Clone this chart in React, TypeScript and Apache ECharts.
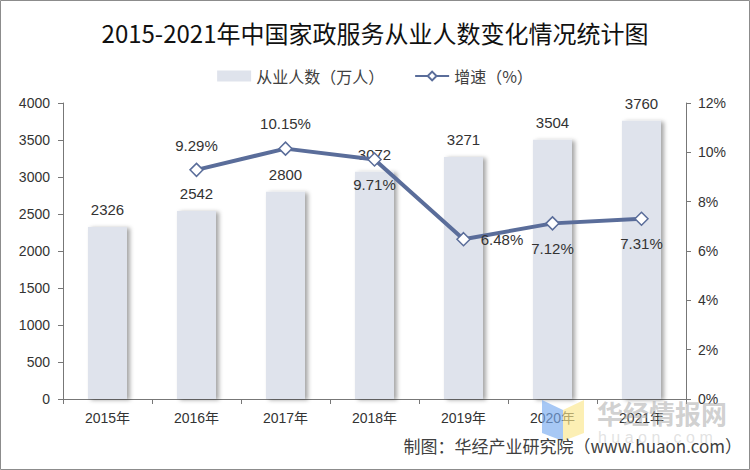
import React, { useEffect, useRef } from "react";
import * as echarts from "echarts";

const categories = ["2015年", "2016年", "2017年", "2018年", "2019年", "2020年", "2021年"];
const workers = [2326, 2542, 2800, 3072, 3271, 3504, 3760];
const growth: (number | null)[] = [null, 9.29, 10.15, 9.71, 6.48, 7.12, 7.31];
const growthLabelPos = ["top", "top", "top", "bottom", "right", "bottom", "bottom"];

const LINE_COLOR = "#5a6d9a";
const BAR_COLOR = "#dfe3ec";
const FONT = "'Liberation Sans', 'Noto Sans CJK SC', sans-serif";

export default function App() {
  const ref = useRef<HTMLDivElement>(null);
  useEffect(() => {
    if (!ref.current) return;
    const chart = echarts.init(ref.current, null, { renderer: "svg" });
    chart.setOption({
      animation: false,
      backgroundColor: "#ffffff",
      textStyle: { fontFamily: FONT },
      title: {
        text: "2015-2021年中国家政服务从业人数变化情况统计图",
        left: "center",
        top: 15,
        textStyle: { fontFamily: "'Noto Sans CJK SC', serif", fontSize: 24, fontWeight: "normal", color: "#111" },
      },
      legend: {
        top: 63,
        left: "center",
        itemGap: 30,
        itemWidth: 34,
        itemHeight: 11,
        textStyle: { fontFamily: "'Noto Sans CJK SC', sans-serif", fontSize: 16, color: "#404040" },
        data: [
          { name: "从业人数（万人）", icon: "rect" },
          { name: "增速（%）" },
        ],
      },
      grid: { left: 63, right: 64, top: 103, bottom: 71 },
      xAxis: {
        type: "category",
        data: categories,
        axisLine: { lineStyle: { color: "#777", width: 1 } },
        axisTick: { show: true, alignWithLabel: false, length: 5, lineStyle: { color: "#777" } },
        axisLabel: { color: "#333", fontSize: 14, margin: 12, fontFamily: FONT },
      },
      yAxis: [
        {
          type: "value",
          min: 0,
          max: 4000,
          interval: 500,
          axisLine: { show: true, lineStyle: { color: "#777" } },
          axisTick: { show: true, length: 5, lineStyle: { color: "#777" } },
          splitLine: { show: false },
          axisLabel: { color: "#333", fontSize: 14, margin: 13, formatter: (v: number) => String(v) },
        },
        {
          type: "value",
          min: 0,
          max: 12,
          interval: 2,
          position: "right",
          axisLine: { show: true, lineStyle: { color: "#777" } },
          axisTick: { show: true, length: 5, lineStyle: { color: "#777" } },
          splitLine: { show: false },
          axisLabel: { color: "#333", fontSize: 14, margin: 12, formatter: "{value}%" },
        },
      ],
      series: [
        {
          name: "从业人数（万人）",
          type: "bar",
          data: workers,
          barWidth: 39,
          itemStyle: {
            color: BAR_COLOR,
            shadowColor: "rgba(0,0,0,0.35)",
            shadowBlur: 4,
            shadowOffsetX: 3,
            shadowOffsetY: 1,
          },
          label: { show: true, position: "top", distance: 10, color: "#333", fontSize: 15 },
        },
        {
          name: "增速（%）",
          type: "line",
          yAxisIndex: 1,
          data: growth.map((v, i) => ({
            value: v,
            label: { position: growthLabelPos[i] },
          })),
          symbol: "diamond",
          symbolSize: 13,
          showAllSymbol: true,
          lineStyle: { color: LINE_COLOR, width: 4 },
          itemStyle: { color: "#ffffff", borderColor: LINE_COLOR, borderWidth: 1.5 },
          label: {
            show: true,
            distance: 10,
            color: "#333",
            fontSize: 15,
            formatter: (p: any) => (p.value == null ? "" : p.value.toFixed(2) + "%"),
          },
          z: 5,
        },
      ],
      graphic: [
        {
          type: "rect",
          shape: { x: 0.5, y: 0.5, width: 749, height: 469 },
          style: { fill: "none", stroke: "#8c8c8c", lineWidth: 1 },
          silent: true,
        },
        {
          type: "polygon",
          shape: { points: [[542, 400], [563, 410], [563, 441], [542, 433]] },
          style: { fill: "rgba(120,170,240,0.65)" },
          silent: true,
          z: 10,
        },
        {
          type: "polygon",
          shape: { points: [[563, 410], [584, 400], [584, 433], [563, 441]] },
          style: { fill: "rgba(250,230,140,0.65)" },
          silent: true,
          z: 10,
        },
        {
          type: "text",
          x: 597,
          y: 399,
          style: {
            text: "华经情报网",
            fontSize: 26,
            fontWeight: "bold",
            fontFamily: "'Noto Sans CJK SC', sans-serif",
            fill: "rgba(170,170,170,0.55)",
          },
          silent: true,
          z: 10,
        },
        {
          type: "text",
          x: 598,
          y: 429,
          style: {
            text: "h u a o n . c o m",
            fontSize: 16,
            fontFamily: FONT,
            fill: "rgba(190,190,190,0.45)",
          },
          silent: true,
          z: 10,
        },
        {
          type: "text",
          right: 8,
          top: 437,
          style: {
            text: "制图：华经产业研究院（www.huaon.com）",
            fontSize: 17,
            fontFamily: "'Noto Sans CJK SC', sans-serif",
            fill: "#404040",
          },
          silent: true,
          z: 11,
        },
      ],
    });
    return () => chart.dispose();
  }, []);
  return (
    <div
      ref={ref}
      style={{ position: "fixed", left: 0, top: 0, width: 750, height: 470 }}
    />
  );
}
